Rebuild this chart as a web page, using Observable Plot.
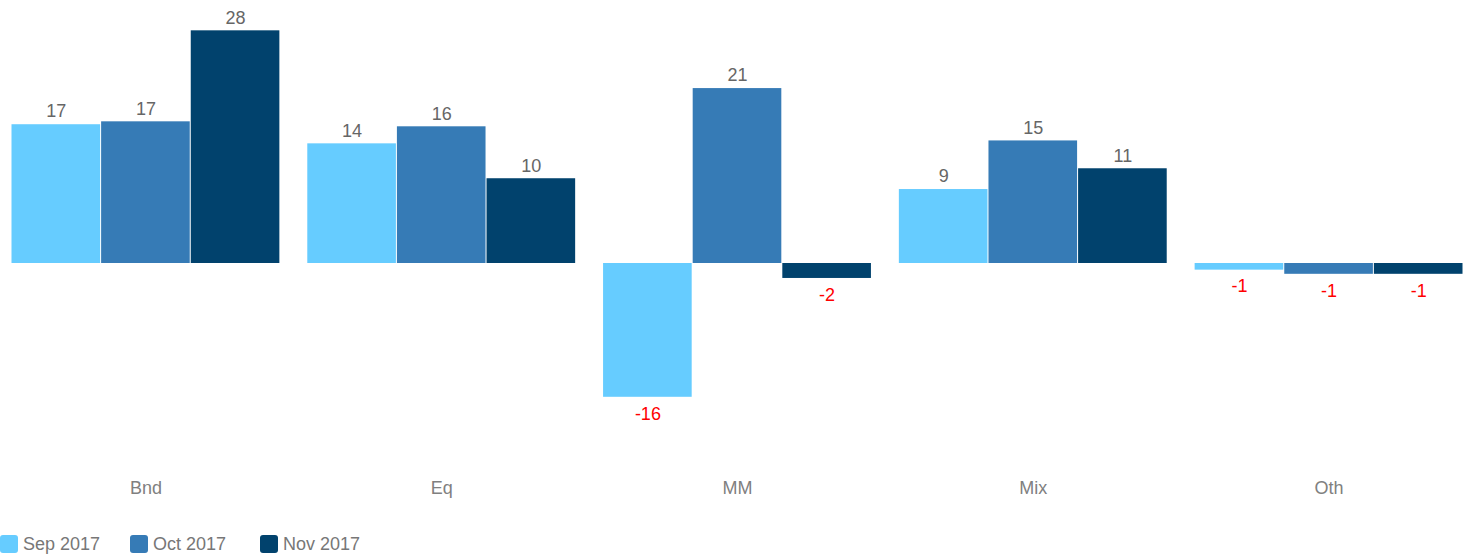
<!DOCTYPE html>
<html>
<head>
<meta charset="utf-8">
<script src="https://cdn.jsdelivr.net/npm/d3@7"></script>
<script src="https://cdn.jsdelivr.net/npm/@observablehq/plot@0.6"></script>
<style>
  body { margin: 0; background: #fff; font-family: "Liberation Sans", Arial, sans-serif; }
  #chart svg { display: block; }
  #legend { display: flex; height: 36px; padding-top: 15px; box-sizing: border-box; }
  .item { width: 130px; display: flex; align-items: center; height: 18px; }
  .sw { width: 18px; height: 18px; border-radius: 3px; margin-right: 5px; flex: none; }
  .lab { font-size: 18px; color: #777; white-space: nowrap; }
</style>
</head>
<body>
<div id="chart"></div>
<div id="legend"></div>
<script>
const categories = ["Bnd", "Eq", "MM", "Mix", "Oth"];
const seriesNames = ["Sep 2017", "Oct 2017", "Nov 2017"];
const sep2017 = [16.7, 14.4, -16.1, 8.9, -0.8];
const oct2017 = [17.05, 16.45, 21.05, 14.75, -1.3];
const nov2017 = [28.0, 10.2, -1.8, 11.4, -1.3];
const seriesColors = ["#66CCFF", "#367BB6", "#01426D"];

const seriesValues = [sep2017, oct2017, nov2017];
const data = categories.flatMap((c, i) =>
  seriesValues.map((arr, j) => ({ category: c, series: seriesNames[j], value: arr[i] }))
);
const fmt = v => String(Math.round(v));

const chart = Plot.plot({
  width: 1473,
  height: 520,
  marginLeft: 11,
  marginRight: 10,
  marginTop: 13.7,
  marginBottom: 90.8,
  style: { fontFamily: '"Liberation Sans", Arial, sans-serif', fontSize: "18px", background: "#fff" },
  fx: { domain: categories, paddingInner: 0.091, paddingOuter: 0, round: false, label: null },
  x: { domain: seriesNames, padding: 0, round: false, axis: null },
  y: { domain: [-20, 30], axis: null },
  color: { domain: seriesNames, range: seriesColors },
  marks: [
    Plot.axisFx({ anchor: "bottom", tickSize: 0, tickPadding: 52, color: "#808080", fontSize: 18, label: null }),
    Plot.barY(data, { fx: "category", x: "series", y: "value", fill: "series", insetLeft: 0.5, insetRight: 0.5 }),
    Plot.text(data.filter(d => d.value >= 0), {
      fx: "category", x: "series", y: "value", text: d => fmt(d.value),
      dy: -13, fill: "#666666", fontSize: 18, lineAnchor: "middle"
    }),
    Plot.text(data.filter(d => d.value < 0), {
      fx: "category", x: "series", y: "value", text: d => fmt(d.value),
      dy: 16.5, fill: "#FF0000", fontSize: 18, lineAnchor: "middle"
    })
  ]
});
document.getElementById("chart").appendChild(chart);

const legend = document.getElementById("legend");
seriesNames.forEach((name, i) => {
  const item = document.createElement("div");
  item.className = "item";
  const sw = document.createElement("div");
  sw.className = "sw";
  sw.style.background = seriesColors[i];
  const lab = document.createElement("span");
  lab.className = "lab";
  lab.textContent = name;
  item.appendChild(sw);
  item.appendChild(lab);
  legend.appendChild(item);
});
</script>
</body>
</html>
